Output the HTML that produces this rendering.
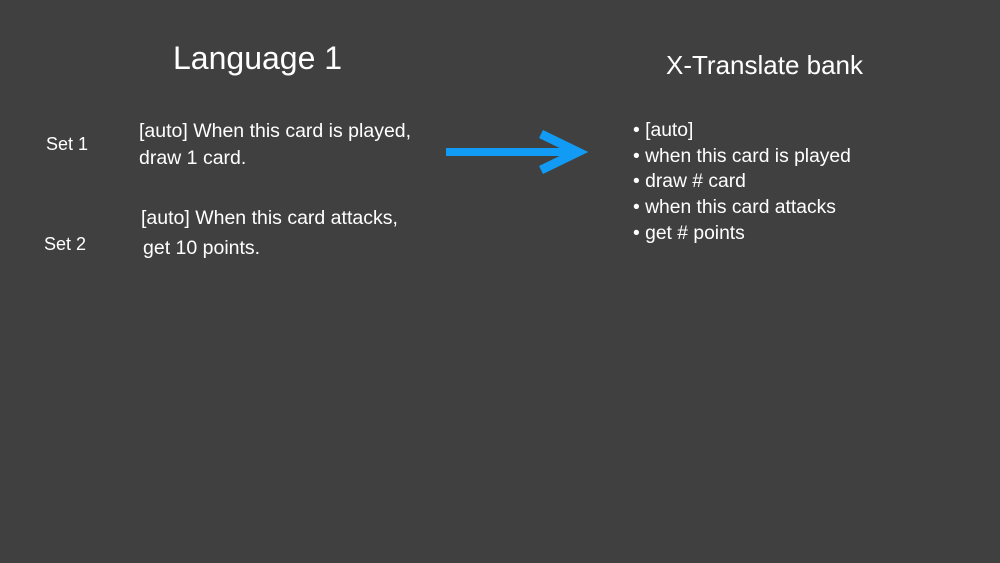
<!DOCTYPE html>
<html><head><meta charset="utf-8"><style>
body{margin:0;width:1000px;height:563px;background:#404040;overflow:hidden;position:relative;font-family:"Liberation Sans",sans-serif;color:#fff}
div{position:absolute;white-space:nowrap}
</style></head><body>
<div style="left:173px;top:40px;font-size:32px">Language 1</div>
<div style="left:666px;top:50px;font-size:26px">X-Translate bank</div>
<div style="left:46px;top:134px;font-size:18px">Set 1</div>
<div style="left:44px;top:234px;font-size:18px">Set 2</div>
<div style="left:139px;top:118px;font-size:19.5px;line-height:27px">[auto] When this card is played,<br>draw 1 card.</div>
<div style="left:141px;top:207px;font-size:19.5px">[auto] When this card attacks,</div>
<div style="left:143px;top:237px;font-size:19.5px">get 10 points.</div>
<div style="left:633px;top:118px;font-size:19.3px;line-height:25.7px">• [auto]<br>• when this card is played<br>• draw # card<br>• when this card attacks<br>• get # points</div>
<svg style="position:absolute;left:0;top:0" width="1000" height="563">
<line x1="446" y1="152" x2="575" y2="152" stroke="#129bf4" stroke-width="8"/>
<polyline points="541,134 578,152 541,170" fill="none" stroke="#129bf4" stroke-width="9" stroke-linejoin="miter" stroke-miterlimit="3"/>
</svg>
</body></html>
